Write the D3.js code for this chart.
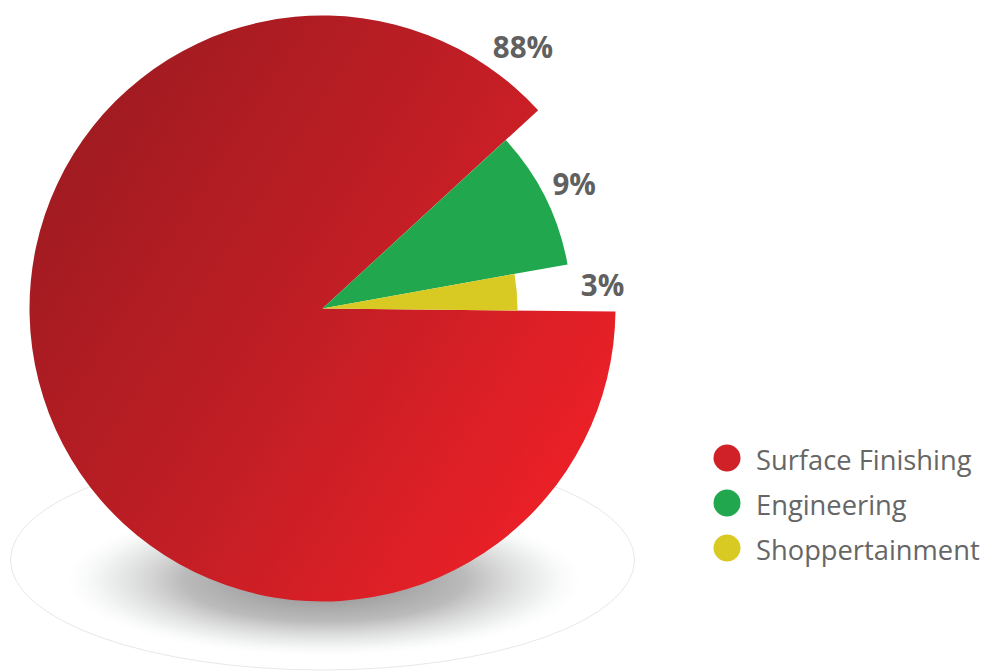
<!DOCTYPE html>
<html><head><meta charset="utf-8">
<script src="https://cdn.jsdelivr.net/npm/d3@7"></script>
<style>html,body{margin:0;padding:0;background:#fff;}svg{display:block;}</style>
</head><body>
<svg id="chart" width="983" height="671"></svg>
<script>
const categories = ["Surface Finishing", "Engineering", "Shoppertainment"];
const values = [88, 9, 3];
const labels = ["88%", "9%", "3%"];
const colors = ["#d02128", "#21a84f", "#d8c923"];

const svg = d3.select("#chart");
const cx = 322.5, cy = 308.5;
const defs = svg.append("defs");

const lg = defs.append("linearGradient").attr("id", "redGrad")
  .attr("gradientUnits", "userSpaceOnUse")
  .attr("x1", -270).attr("y1", -200).attr("x2", 280).attr("y2", 150);
lg.append("stop").attr("offset", 0).attr("stop-color", "#9d1b20");
lg.append("stop").attr("offset", 0.5).attr("stop-color", "#c01e25");
lg.append("stop").attr("offset", 1).attr("stop-color", "#ee2027");

const rg = defs.append("radialGradient").attr("id", "shadowGrad");
rg.append("stop").attr("offset", 0).attr("stop-color", "#858383").attr("stop-opacity", 1);
rg.append("stop").attr("offset", 0.55).attr("stop-color", "#b0afaf").attr("stop-opacity", 0.85);
rg.append("stop").attr("offset", 0.85).attr("stop-color", "#e4e6e6").attr("stop-opacity", 0.6);
rg.append("stop").attr("offset", 1).attr("stop-color", "#f4f5f5").attr("stop-opacity", 0);

// floor ellipse + shadow
svg.append("ellipse").attr("cx", cx).attr("cy", 560).attr("rx", 312).attr("ry", 110)
  .attr("fill", "#fff").attr("stroke", "#e8e8e8").attr("stroke-width", 1);
svg.append("ellipse").attr("cx", cx + 2).attr("cy", 580).attr("rx", 258).attr("ry", 76)
  .attr("fill", "url(#shadowGrad)");

const deg = Math.PI / 180;
const pie = d3.pie().sort(null).value(d => d)
  .startAngle(90.6 * deg).endAngle(90.6 * deg + 2 * Math.PI);
const arcsData = pie(values);
const radii = [293, 249, 195];

const g = svg.append("g").attr("transform", `translate(${cx},${cy})`);
g.selectAll("path.slice").data(arcsData).enter().append("path")
  .attr("class", "slice")
  .attr("d", (d, i) => d3.arc().innerRadius(0).outerRadius(radii[i])(d))
  .attr("fill", (d, i) => i === 0 ? "url(#redGrad)" : colors[i]);

// labels
g.selectAll("text.lbl").data(arcsData).enter().append("text")
  .attr("class", "lbl")
  .attr("transform", (d, i) => {
    let a, r;
    if (i === 0) { a = d.endAngle - 10 * deg; r = radii[0] + 37; }
    else { a = (d.startAngle + d.endAngle) / 2; r = 281; }
    return `translate(${r * Math.sin(a)},${-r * Math.cos(a)})`;
  })
  .attr("text-anchor", "middle").attr("dominant-baseline", "central")
  .attr("font-family", "'Open Sans', sans-serif").attr("font-weight", 700)
  .attr("font-size", 29.5).attr("fill", "#606060")
  .text((d, i) => labels[i]);

// legend
const legend = svg.append("g").attr("transform", "translate(727,458)");
const ly = d3.scalePoint().domain(categories).range([0, 90]);
const items = legend.selectAll("g").data(categories).enter().append("g")
  .attr("transform", d => `translate(0,${ly(d)})`);
items.append("circle").attr("r", 13.5).attr("fill", (d, i) => colors[i]);
items.append("text").attr("x", 29).attr("y", 1).attr("dominant-baseline", "central")
  .attr("font-family", "'Open Sans', sans-serif").attr("font-size", 27.3)
  .attr("fill", "#666").text(d => d);
</script>
</body></html>
